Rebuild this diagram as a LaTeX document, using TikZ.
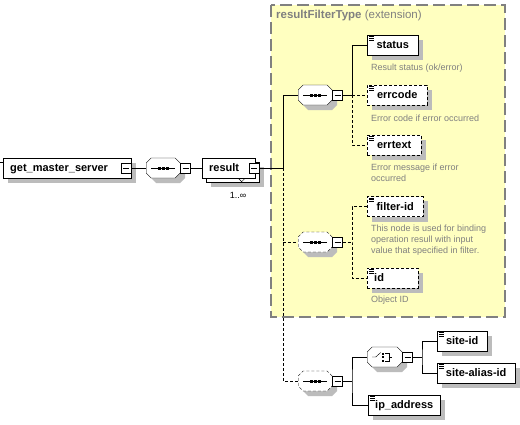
\documentclass[tikz,border=0pt]{standalone}
\usepackage{fontspec}
\setmainfont{Liberation Sans}
\usetikzlibrary{shapes.misc}

\definecolor{typefill}{RGB}{255,255,192}
\definecolor{typeline}{RGB}{128,128,128}
\definecolor{shadowgray}{RGB}{188,188,188}
\definecolor{notegray}{RGB}{128,128,128}

\pgfdeclarelayer{typearea}
\pgfdeclarelayer{shadows}
\pgfsetlayers{typearea,shadows,main}

\tikzset{
  optline/.style={dash pattern=on 3pt off 2pt},
  opt/.style={optline},
  box/.style={rectangle,draw,fill=white,anchor=west,inner xsep=7pt,inner ysep=0pt,
    minimum height=20pt,text height=8.5pt,text depth=1.5pt,
    font=\fontsize{11}{13}\selectfont\bfseries},
  elem/.style={box,path picture={
    \foreach \k in {1.7,3.4,5.1}
      \draw[solid,line width=.9pt] ([xshift=2pt,yshift=-\k pt]path picture bounding box.north west) -- ++(5pt,0pt);}},
  minusbox/.style={rectangle,draw,solid,fill=white,minimum size=10pt,inner sep=0pt,path picture={
    \draw[solid] ([xshift=2pt]path picture bounding box.west) -- ([xshift=-2pt]path picture bounding box.east);}},
  comp/.style={chamfered rectangle,chamfered rectangle xsep=2.5pt,chamfered rectangle ysep=2.5pt,
    draw,fill=white,anchor=west,inner xsep=14.5pt,inner ysep=7.5pt},
  seqicon/.style={path picture={
    \begin{scope}[shift={(path picture bounding box.center)}]
      \draw[solid] (-12,0) -- (12,0);
      \foreach \k in {-5.5,-1.5,2.5} \fill[black] (\k,-1.5) rectangle ++(3,3);
    \end{scope}}},
  choiceicon/.style={path picture={
    \begin{scope}[shift={(path picture bounding box.center)}]
      \draw[solid] (-12.5,0) -- (-9,0) -- (-4,-4.5);
      \foreach \k in {-3.5,0,3.5} \fill[black] (-2.5,\k-1) rectangle ++(2,2);
      \draw[solid] (0.5,-4) -- (4,-4) -- (4,4) -- (0.5,4) (4,0) -- (7.5,0);
    \end{scope}}},
  note/.style={anchor=west,align=left,inner sep=0pt,text=notegray,font=\fontsize{9}{11}\selectfont},
  typebox/.style={fill=typefill,draw=typeline,line width=1.5pt,dash pattern=on 12pt off 5pt},
}

\begin{document}
\begin{tikzpicture}[x=1pt,y=-1pt,line width=1pt]
\useasboundingbox (0,0) rectangle (520,424);

% extension type
\begin{pgfonlayer}{typearea}
\fill[white] (0,0) rectangle (520,424);
\draw[typebox] (271,5) rectangle (505,317);
\end{pgfonlayer}
\node at(276,16) [anchor=west,inner sep=0pt,text=notegray,font=\fontsize{11.5}{13}\selectfont] (typename) {\textbf{resultFilterType} (extension)};

%-----------------------------------------------------
\node at(3,168) [box,text width=114pt,align=left] (getmaster) {get\_master\_server};
\node at(126,168) [minusbox] (getmaster-m) {};
\coordinate (rootstub) at (0,162);
\draw (rootstub) -- (rootstub -| getmaster.west);

\node at(146,168) [comp,seqicon] (seqroot) {};
\node at(seqroot.east) [minusbox,anchor=west] (seqroot-m) {};
\draw (getmaster-m) -- (seqroot);

\node at(206,172) [box,minimum width=53pt] (result-back) {};
\node at(202,168) [box,text width=39pt,align=left] (result) {result};
\node at(254,168) [minusbox] (result-m) {};
\draw ([xshift=9.5pt]result.south) -- ++(3.5,3.5) -- ++(3.5,-3.5);
\node at(238,195) [font=\fontsize{9}{11}\selectfont,inner sep=0pt] (result-occ) {1..∞};
\draw (seqroot-m) -- (result);

%-----------------------------------------------------
\coordinate (trunk) at (283,168);
\node at(298,95) [comp,seqicon] (seqtype) {};
\node at(298,242) [comp,opt,seqicon] (seqfilter) {};
\node at(298,381) [comp,opt,seqicon] (seqsite) {};
\node at(seqtype.east) [minusbox,anchor=west] (seqtype-m) {};
\node at(seqfilter.east) [minusbox,anchor=west] (seqfilter-m) {};
\node at(seqsite.east) [minusbox,anchor=west] (seqsite-m) {};

\draw (result-m) -- (trunk) |- (seqtype);
\draw [optline] (trunk) |- (seqsite);
\draw [optline] (seqfilter.west -| trunk) -- (seqfilter);

%-----------------------------------------------------
\coordinate (brtype) at (352,95);
\node at(367,45) [elem,minimum width=51pt] (status) {status};
\node at(367,95) [elem,opt,minimum width=60pt] (errcode) {errcode};
\node at(367,145) [elem,opt,minimum width=54pt] (errtext) {errtext};
\draw (seqtype-m) -- (brtype) |- (status);
\draw [optline] (brtype) |- (errtext);
\draw [optline] (errcode.west -| brtype) -- (errcode);

\node at(371,68) [note] (status-note) {Result status (ok/error)};
\node at(371,118) [note] (errcode-note) {Error code if error occurred};
\node at(371,172.5) [note] (errtext-note) {Error message if error\\occurred};

%-----------------------------------------------------
\coordinate (brfilter) at (352,242);
\node at(367,206.5) [elem,opt,minimum width=56pt] (filterid) {filter-id};
\node at(367,278) [elem,opt,text width=37pt,align=left] (id) {id};
\draw [optline] (seqfilter-m) -- (brfilter);
\draw [optline] (filterid.west) -| (brfilter) |- (id);

\node at(371,240) [note] (filterid-note) {This node is used for binding\\operation resull with input\\value that specified in filter.};
\node at(371,300) [note] (id-note) {Object ID};

%-----------------------------------------------------
\coordinate (brsite) at (352,381);
\node at(367,357) [comp,choiceicon,inner xsep=15pt] (choicesite) {};
\node at(choicesite.east) [minusbox,anchor=west] (choicesite-m) {};
\node at(368,405) [elem] (ipaddr) {ip\_address};
\draw (seqsite-m) -- (brsite);
\draw (choicesite.west) -| (brsite) |- (ipaddr);

\coordinate (brchoice) at (422,357);
\node at(437,341) [elem,minimum width=50pt] (siteid) {site-id};
\node at(437,373) [elem,minimum width=78pt] (sitealias) {site-alias-id};
\draw (choicesite-m) -- (brchoice);
\draw (siteid.west) -| (brchoice) |- (sitealias);

%-----------------------------------------------------
% shadows
\begin{pgfonlayer}{shadows}
\foreach \n in {getmaster,result-back,status,errcode,errtext,filterid,id,siteid,sitealias,ipaddr}
  \fill[shadowgray] ([shift={(5pt,-5pt)}]\n.north west) rectangle ([shift={(5pt,-5pt)}]\n.south east);
\foreach \n in {seqroot,seqtype,seqfilter,seqsite}
  \node at([shift={(5pt,-5pt)}]\n.west) [comp,draw=none,fill=shadowgray] {};
\node at([shift={(5pt,-5pt)}]choicesite.west) [comp,draw=none,fill=shadowgray,inner xsep=15pt] {};
\end{pgfonlayer}

\end{tikzpicture}
\end{document}
